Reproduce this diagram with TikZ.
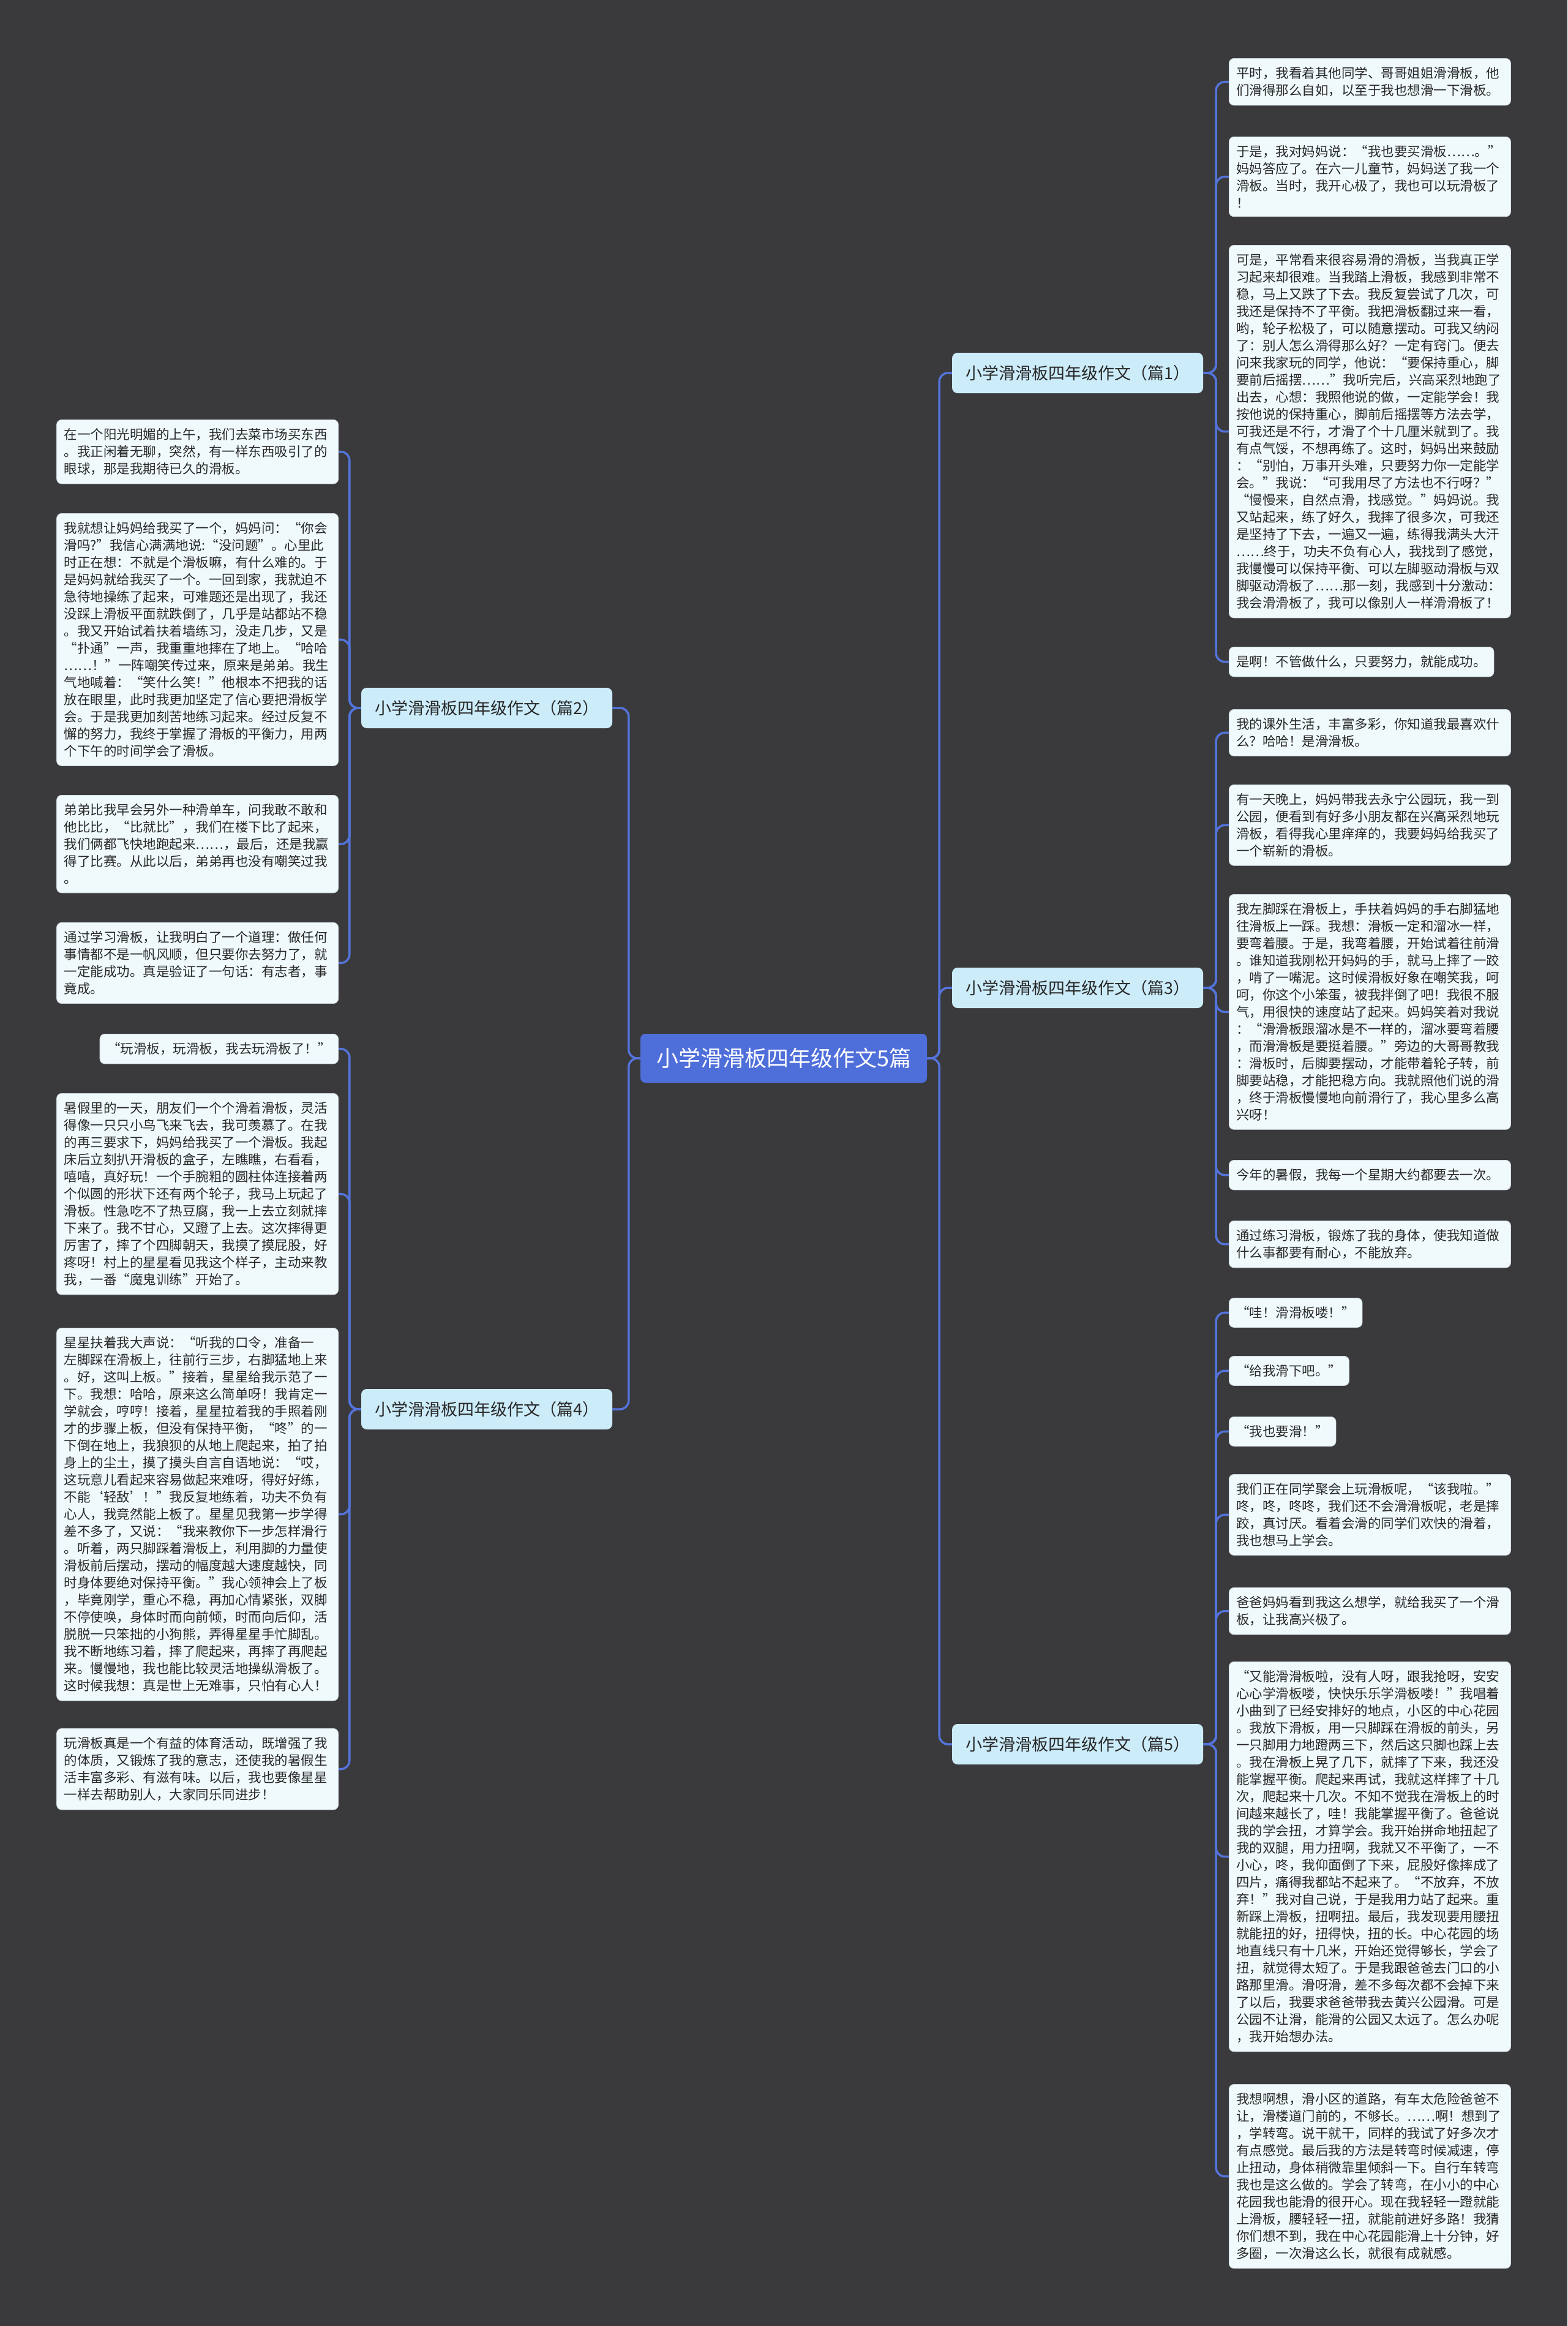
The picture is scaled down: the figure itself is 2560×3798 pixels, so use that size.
\documentclass[tikz,border=0pt]{standalone}
\usepackage{fontspec}
\setmainfont{Noto Sans CJK SC}
\definecolor{bgc}{RGB}{58,58,60}
\definecolor{linec}{RGB}{84,116,220}
\definecolor{centerfill}{RGB}{78,110,218}
\definecolor{branchfill}{RGB}{204,236,250}
\definecolor{leaffill}{RGB}{240,250,253}
\definecolor{leafdraw}{RGB}{205,214,220}
\definecolor{textc}{RGB}{40,40,40}
\tikzset{
  conn/.style={draw=linec, line width=3.5pt, rounded corners=14pt},
  leaf/.style={rectangle, rounded corners=8pt, fill=leaffill, draw=leafdraw, line width=0.8pt,
    text=textc, inner xsep=12pt, inner ysep=14pt, font=\fontsize{21.5}{28}\selectfont, align=left},
  leafw/.style={leaf, text width=436pt},
  branchbox/.style={rectangle, rounded corners=9pt, fill=branchfill, text=textc,
    minimum width=410pt, minimum height=66pt, inner xsep=10pt, font=\fontsize{27}{32}\selectfont},
  centerbox/.style={rectangle, rounded corners=8pt, fill=centerfill, text=white,
    minimum width=468pt, minimum height=80pt, font=\fontsize{36}{40}\selectfont}
}
\begin{document}
\begin{tikzpicture}[x=1pt,y=-1pt]
\fill[bgc] (0,0) rectangle (2560,3798);
\useasboundingbox (0,0) rectangle (2560,3798);

% center and branches
\node[centerbox] (c) at (1280,1728) {小学滑滑板四年级作文5篇};
\node[branchbox] (b1) at (1760,609) {小学滑滑板四年级作文（篇1）};
\node[branchbox] (b3) at (1760,1613) {小学滑滑板四年级作文（篇3）};
\node[branchbox] (b5) at (1760,2848) {小学滑滑板四年级作文（篇5）};
\node[branchbox] (b2) at (795,1156) {小学滑滑板四年级作文（篇2）};
\node[branchbox] (b4) at (795,2301) {小学滑滑板四年级作文（篇4）};

% right leaves, branch 1
\node[leafw, anchor=north west] (r1) at (2007,95) {平时，我看着其他同学、哥哥姐姐滑滑板，他\\们滑得那么自如，以至于我也想滑一下滑板。};
\node[leafw, anchor=north west] (r2) at (2007,223) {于是，我对妈妈说：“我也要买滑板……。”\\妈妈答应了。在六一儿童节，妈妈送了我一个\\滑板。当时，我开心极了，我也可以玩滑板了\\！};
\node[leafw, anchor=north west] (r3) at (2007,400) {可是，平常看来很容易滑的滑板，当我真正学\\习起来却很难。当我踏上滑板，我感到非常不\\稳，马上又跌了下去。我反复尝试了几次，可\\我还是保持不了平衡。我把滑板翻过来一看，\\哟，轮子松极了，可以随意摆动。可我又纳闷\\了：别人怎么滑得那么好？一定有窍门。便去\\问来我家玩的同学，他说：“要保持重心，脚\\要前后摇摆……”我听完后，兴高采烈地跑了\\出去，心想：我照他说的做，一定能学会！我\\按他说的保持重心，脚前后摇摆等方法去学，\\可我还是不行，才滑了个十几厘米就到了。我\\有点气馁，不想再练了。这时，妈妈出来鼓励\\：“别怕，万事开头难，只要努力你一定能学\\会。”我说：“可我用尽了方法也不行呀？”\\“慢慢来，自然点滑，找感觉。”妈妈说。我\\又站起来，练了好久，我摔了很多次，可我还\\是坚持了下去，一遍又一遍，练得我满头大汗\\……终于，功夫不负有心人，我找到了感觉，\\我慢慢可以保持平衡、可以左脚驱动滑板与双\\脚驱动滑板了……那一刻，我感到十分激动：\\我会滑滑板了，我可以像别人一样滑滑板了！};
\node[leaf, anchor=north west] (r4) at (2007,1056) {是啊！不管做什么，只要努力，就能成功。};

% right leaves, branch 3
\node[leafw, anchor=north west] (r5) at (2007,1158) {我的课外生活，丰富多彩，你知道我最喜欢什\\么？哈哈！是滑滑板。};
\node[leafw, anchor=north west] (r6) at (2007,1281) {有一天晚上，妈妈带我去永宁公园玩，我一到\\公园，便看到有好多小朋友都在兴高采烈地玩\\滑板，看得我心里痒痒的，我要妈妈给我买了\\一个崭新的滑板。};
\node[leafw, anchor=north west] (r7) at (2007,1460) {我左脚踩在滑板上，手扶着妈妈的手右脚猛地\\往滑板上一踩。我想：滑板一定和溜冰一样，\\要弯着腰。于是，我弯着腰，开始试着往前滑\\。谁知道我刚松开妈妈的手，就马上摔了一跤\\，啃了一嘴泥。这时候滑板好象在嘲笑我，呵\\呵，你这个小笨蛋，被我拌倒了吧！我很不服\\气，用很快的速度站了起来。妈妈笑着对我说\\：“滑滑板跟溜冰是不一样的，溜冰要弯着腰\\，而滑滑板是要挺着腰。”旁边的大哥哥教我\\：滑板时，后脚要摆动，才能带着轮子转，前\\脚要站稳，才能把稳方向。我就照他们说的滑\\，终于滑板慢慢地向前滑行了，我心里多么高\\兴呀！};
\node[leafw, anchor=north west] (r8) at (2007,1894) {今年的暑假，我每一个星期大约都要去一次。};
\node[leafw, anchor=north west] (r9) at (2007,1993) {通过练习滑板，锻炼了我的身体，使我知道做\\什么事都要有耐心，不能放弃。};

% right leaves, branch 5
\node[leaf, anchor=north west] (r10) at (2007,2119) {“哇！滑滑板喽！”};
\node[leaf, anchor=north west] (r11) at (2007,2214) {“给我滑下吧。”};
\node[leaf, anchor=north west] (r12) at (2007,2313) {“我也要滑！”};
\node[leafw, anchor=north west] (r13) at (2007,2407) {我们正在同学聚会上玩滑板呢，“该我啦。”\\咚，咚，咚咚，我们还不会滑滑板呢，老是摔\\跤，真讨厌。看着会滑的同学们欢快的滑着，\\我也想马上学会。};
\node[leafw, anchor=north west] (r14) at (2007,2592) {爸爸妈妈看到我这么想学，就给我买了一个滑\\板，让我高兴极了。};
\node[leafw, anchor=north west] (r15) at (2007,2713) {“又能滑滑板啦，没有人呀，跟我抢呀，安安\\心心学滑板喽，快快乐乐学滑板喽！”我唱着\\小曲到了已经安排好的地点，小区的中心花园\\。我放下滑板，用一只脚踩在滑板的前头，另\\一只脚用力地蹬两三下，然后这只脚也踩上去\\。我在滑板上晃了几下，就摔了下来，我还没\\能掌握平衡。爬起来再试，我就这样摔了十几\\次，爬起来十几次。不知不觉我在滑板上的时\\间越来越长了，哇！我能掌握平衡了。爸爸说\\我的学会扭，才算学会。我开始拼命地扭起了\\我的双腿，用力扭啊，我就又不平衡了，一不\\小心，咚，我仰面倒了下来，屁股好像摔成了\\四片，痛得我都站不起来了。“不放弃，不放\\弃！”我对自己说，于是我用力站了起来。重\\新踩上滑板，扭啊扭。最后，我发现要用腰扭\\就能扭的好，扭得快，扭的长。中心花园的场\\地直线只有十几米，开始还觉得够长，学会了\\扭，就觉得太短了。于是我跟爸爸去门口的小\\路那里滑。滑呀滑，差不多每次都不会掉下来\\了以后，我要求爸爸带我去黄兴公园滑。可是\\公园不让滑，能滑的公园又太远了。怎么办呢\\，我开始想办法。};
\node[leafw, anchor=north west] (r16) at (2007,3403) {我想啊想，滑小区的道路，有车太危险爸爸不\\让，滑楼道门前的，不够长。……啊！想到了\\，学转弯。说干就干，同样的我试了好多次才\\有点感觉。最后我的方法是转弯时候减速，停\\止扭动，身体稍微靠里倾斜一下。自行车转弯\\我也是这么做的。学会了转弯，在小小的中心\\花园我也能滑的很开心。现在我轻轻一蹬就能\\上滑板，腰轻轻一扭，就能前进好多路！我猜\\你们想不到，我在中心花园能滑上十分钟，好\\多圈，一次滑这么长，就很有成就感。};

% left leaves, branch 2
\node[leafw, anchor=north east] (l1) at (553,685) {在一个阳光明媚的上午，我们去菜市场买东西\\。我正闲着无聊，突然，有一样东西吸引了的\\眼球，那是我期待已久的滑板。};
\node[leafw, anchor=north east] (l2) at (553,838) {我就想让妈妈给我买了一个，妈妈问：“你会\\滑吗?”我信心满满地说:“没问题”。心里此\\时正在想：不就是个滑板嘛，有什么难的。于\\是妈妈就给我买了一个。一回到家，我就迫不\\急待地操练了起来，可难题还是出现了，我还\\没踩上滑板平面就跌倒了，几乎是站都站不稳\\。我又开始试着扶着墙练习，没走几步，又是\\“扑通”一声，我重重地摔在了地上。“哈哈\\……！”一阵嘲笑传过来，原来是弟弟。我生\\气地喊着：“笑什么笑！”他根本不把我的话\\放在眼里，此时我更加坚定了信心要把滑板学\\会。于是我更加刻苦地练习起来。经过反复不\\懈的努力，我终于掌握了滑板的平衡力，用两\\个下午的时间学会了滑板。};
\node[leafw, anchor=north east] (l3) at (553,1298) {弟弟比我早会另外一种滑单车，问我敢不敢和\\他比比，“比就比”，我们在楼下比了起来，\\我们俩都飞快地跑起来……，最后，还是我赢\\得了比赛。从此以后，弟弟再也没有嘲笑过我\\。};
\node[leafw, anchor=north east] (l4) at (553,1506) {通过学习滑板，让我明白了一个道理：做任何\\事情都不是一帆风顺，但只要你去努力了，就\\一定能成功。真是验证了一句话：有志者，事\\竟成。};

% left leaves, branch 4
\node[leaf, anchor=north east] (l5) at (553,1688) {“玩滑板，玩滑板，我去玩滑板了！”};
\node[leafw, anchor=north east] (l6) at (553,1785) {暑假里的一天，朋友们一个个滑着滑板，灵活\\得像一只只小鸟飞来飞去，我可羡慕了。在我\\的再三要求下，妈妈给我买了一个滑板。我起\\床后立刻扒开滑板的盒子，左瞧瞧，右看看，\\嘻嘻，真好玩！一个手腕粗的圆柱体连接着两\\个似圆的形状下还有两个轮子，我马上玩起了\\滑板。性急吃不了热豆腐，我一上去立刻就摔\\下来了。我不甘心，又蹬了上去。这次摔得更\\厉害了，摔了个四脚朝天，我摸了摸屁股，好\\疼呀！村上的星星看见我这个样子，主动来教\\我，一番“魔鬼训练”开始了。};
\node[leafw, anchor=north east] (l7) at (553,2168) {星星扶着我大声说：“听我的口令，准备一\\左脚踩在滑板上，往前行三步，右脚猛地上来\\。好，这叫上板。”接着，星星给我示范了一\\下。我想：哈哈，原来这么简单呀！我肯定一\\学就会，哼哼！接着，星星拉着我的手照着刚\\才的步骤上板，但没有保持平衡，“咚”的一\\下倒在地上，我狼狈的从地上爬起来，拍了拍\\身上的尘土，摸了摸头自言自语地说：“哎，\\这玩意儿看起来容易做起来难呀，得好好练，\\不能‘轻敌’！”我反复地练着，功夫不负有\\心人，我竟然能上板了。星星见我第一步学得\\差不多了，又说：“我来教你下一步怎样滑行\\。听着，两只脚踩着滑板上，利用脚的力量使\\滑板前后摆动，摆动的幅度越大速度越快，同\\时身体要绝对保持平衡。”我心领神会上了板\\，毕竟刚学，重心不稳，再加心情紧张，双脚\\不停使唤，身体时而向前倾，时而向后仰，活\\脱脱一只笨拙的小狗熊，弄得星星手忙脚乱。\\我不断地练习着，摔了爬起来，再摔了再爬起\\来。慢慢地，我也能比较灵活地操纵滑板了。\\这时候我想：真是世上无难事，只怕有心人！};
\node[leafw, anchor=north east] (l8) at (553,2822) {玩滑板真是一个有益的体育活动，既增强了我\\的体质，又锻炼了我的意志，还使我的暑假生\\活丰富多彩、有滋有味。以后，我也要像星星\\一样去帮助别人，大家同乐同进步！};

% connectors
\foreach \b in {b1,b3,b5} \draw[conn] (c.east) -- ++(20,0) |- (\b.west);
\foreach \b in {b2,b4} \draw[conn] (c.west) -- ++(-19,0) |- (\b.east);
\foreach \l in {r1,r2,r3,r4} \draw[conn] (b1.east) -- ++(21,0) |- (\l.west);
\foreach \l in {r5,r6,r7,r8,r9} \draw[conn] (b3.east) -- ++(21,0) |- (\l.west);
\foreach \l in {r10,r11,r12,r13,r14,r15,r16} \draw[conn] (b5.east) -- ++(21,0) |- (\l.west);
\foreach \l in {l1,l2,l3,l4} \draw[conn] (b2.west) -- ++(-19,0) |- (\l.east);
\foreach \l in {l5,l6,l7,l8} \draw[conn] (b4.west) -- ++(-19,0) |- (\l.east);
\end{tikzpicture}
\end{document}
